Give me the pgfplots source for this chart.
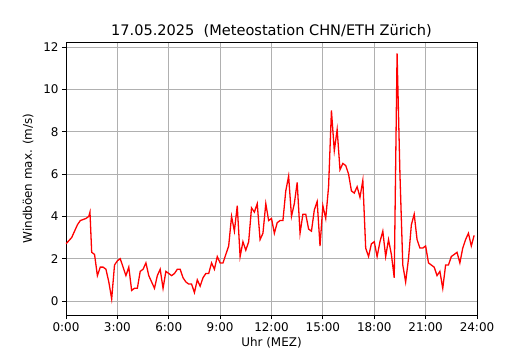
\documentclass[border=0pt]{standalone}
\usepackage{fontspec}
\setmainfont{DejaVu Sans}
\usepackage{pgfplots}
\pgfplotsset{compat=1.18}
\begin{document}
\begin{tikzpicture}
\useasboundingbox (-66bp,-35bp) rectangle (464bp,315bp);
\begin{axis}[
  at={(0,0)}, anchor=south west,
  scale only axis, width=411bp, height=273bp,
  xmin=0, xmax=24, ymin=-0.661, ymax=12.236,
  xtick={0,3,6,9,12,15,18,21,24},
  xticklabels={0:00,3:00,6:00,9:00,12:00,15:00,18:00,21:00,24:00},
  ytick={0,2,4,6,8,10,12},
  /pgf/number format/assume math mode=true,
  tick label style={font=\fontsize{12}{14}\selectfont},
  label style={font=\fontsize{12}{14}\selectfont},
  title style={font=\fontsize{14.6}{17}\selectfont, yshift=-5bp},
  title={17.05.2025\ \ (Meteostation CHN/ETH Zürich)},
  xlabel={Uhr (MEZ)}, ylabel={Windböen max. (m/s)},
  xlabel style={yshift=0.5bp},
  ylabel style={yshift=3bp},
  grid=major, major grid style={color=black!31, line width=0.9bp},
  tick align=outside, tick pos=left, major tick length=4bp,
  every tick/.style={black, line width=0.8bp},
  axis line style={line width=0.8bp},
]
\addplot[red, line width=1.3bp] table {
t v
0.000 2.7
0.167 2.85
0.333 3.0
0.500 3.3
0.667 3.6
0.833 3.8
1.000 3.85
1.167 3.9
1.333 4.0
1.400 4.2
1.500 2.3
1.667 2.2
1.833 1.2
2.000 1.6
2.167 1.6
2.333 1.5
2.500 0.9
2.667 0.1
2.833 1.7
3.000 1.9
3.167 2.0
3.333 1.6
3.500 1.2
3.667 1.6
3.833 0.5
4.000 0.6
4.167 0.6
4.333 1.4
4.500 1.5
4.667 1.8
4.833 1.2
5.000 0.9
5.167 0.6
5.333 1.2
5.500 1.5
5.667 0.6
5.833 1.4
6.000 1.3
6.167 1.2
6.333 1.3
6.500 1.5
6.667 1.5
6.833 1.1
7.000 0.9
7.167 0.8
7.333 0.8
7.500 0.4
7.667 1.0
7.833 0.7
8.000 1.1
8.167 1.3
8.333 1.3
8.500 1.8
8.667 1.5
8.833 2.1
9.000 1.8
9.167 1.8
9.333 2.2
9.500 2.6
9.667 4.0
9.833 3.3
10.000 4.5
10.167 2.1
10.333 2.8
10.500 2.4
10.667 2.8
10.833 4.4
11.000 4.2
11.167 4.6
11.333 2.9
11.500 3.2
11.667 4.6
11.833 3.8
12.000 3.9
12.167 3.2
12.333 3.7
12.500 3.8
12.667 3.8
12.833 5.2
13.000 5.9
13.167 4.0
13.333 4.6
13.500 5.6
13.667 3.2
13.833 4.1
14.000 4.1
14.167 3.4
14.333 3.3
14.500 4.3
14.667 4.7
14.833 2.6
15.000 4.5
15.167 3.9
15.333 5.4
15.500 9.0
15.667 7.1
15.833 8.1
16.000 6.2
16.167 6.5
16.333 6.4
16.500 6.0
16.667 5.2
16.833 5.1
17.000 5.4
17.167 4.9
17.333 5.7
17.500 2.5
17.667 2.1
17.833 2.7
18.000 2.8
18.167 2.1
18.333 2.8
18.500 3.3
18.667 2.1
18.833 2.9
19.000 2.2
19.167 1.1
19.333 11.7
19.500 6.0
19.667 1.7
19.833 0.9
20.000 2.0
20.167 3.6
20.333 4.1
20.500 2.9
20.667 2.5
20.833 2.5
21.000 2.6
21.167 1.8
21.333 1.7
21.500 1.6
21.667 1.2
21.833 1.4
22.000 0.6
22.167 1.7
22.333 1.7
22.500 2.1
22.667 2.2
22.833 2.3
23.000 1.8
23.167 2.5
23.333 2.9
23.500 3.2
23.667 2.6
23.833 3.1
};
\end{axis}
\end{tikzpicture}
\end{document}
